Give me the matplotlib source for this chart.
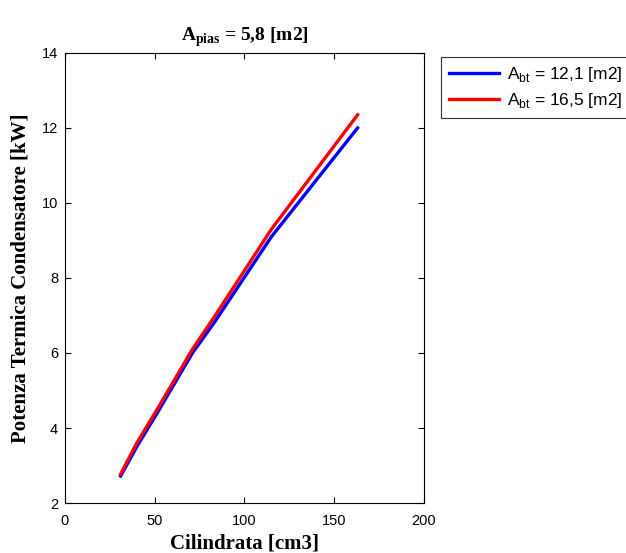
import matplotlib
matplotlib.use("Agg")
import matplotlib.pyplot as plt

# cilindrata [cm3]
cil = [31, 40, 52, 71, 83, 115, 163]
# potenza termica condensatore [kW]
q_121 = [2.72, 3.50, 4.45, 6.00, 6.80, 9.10, 12.00]
q_165 = [2.77, 3.60, 4.55, 6.10, 6.95, 9.30, 12.35]

plt.rcParams['font.family'] = ['Liberation Sans', 'DejaVu Sans']
plt.rcParams['mathtext.fontset'] = 'custom'
plt.rcParams['mathtext.rm'] = 'Liberation Sans'
plt.rcParams['mathtext.bf'] = 'Liberation Serif:bold'

fig = plt.figure(figsize=(6.26, 5.53), dpi=100)
ax = fig.add_axes([0.1038, 0.0904, 0.5735, 0.8138])

ax.plot(cil, q_121, color='#0000ff', lw=2.4, label=r'A$_{\mathrm{bt}}$ = 12,1 [m2]')
ax.plot(cil, q_165, color='#ff0000', lw=2.4, label=r'A$_{\mathrm{bt}}$ = 16,5 [m2]')

ax.set_xlim(0, 200)
ax.set_ylim(2, 14)
ax.set_xticks([0, 50, 100, 150, 200])
ax.set_yticks([2, 4, 6, 8, 10, 12, 14])
ax.tick_params(direction='in', top=True, right=True, labelsize=10.5, length=4)
ax.tick_params(axis='x', pad=8)
ax.tick_params(axis='y', pad=5)

serif = {'family': 'Liberation Serif', 'weight': 'bold', 'size': 15}
ax.set_xlabel('Cilindrata [cm3]', fontdict=serif, labelpad=4)
ax.set_ylabel('Potenza Termica Condensatore [kW]', fontdict=serif, labelpad=8)
ax.set_title(r'A$_{\mathbf{pias}}$ = 5,8 [m2]',
             fontdict={'family': 'Liberation Serif', 'weight': 'bold', 'size': 14}, pad=9)

leg = ax.legend(loc='upper left', bbox_to_anchor=(1.047, 0.991), frameon=True,
                fancybox=False, edgecolor='black', fontsize=12.5, handlelength=2.9,
                handletextpad=0.45, borderpad=0.45, labelspacing=0.4,
                borderaxespad=0)
leg.get_frame().set_linewidth(0.8)

fig.savefig('out.png', dpi=100)
